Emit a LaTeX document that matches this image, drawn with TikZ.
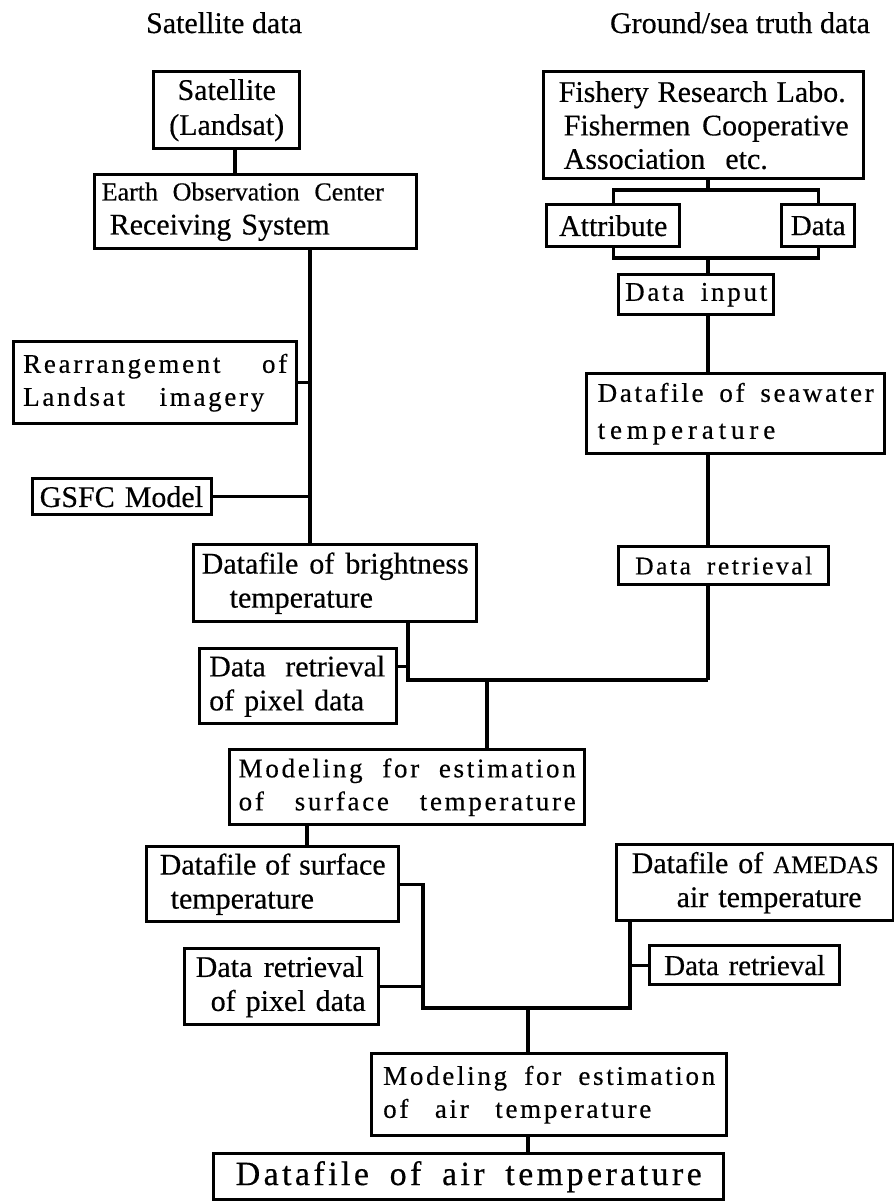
\documentclass[tikz,border=0pt]{standalone}
\usepackage{fontspec}
\setmainfont{Liberation Serif}[FakeBold=0.4]
\newfontfamily\spaced[LetterSpace=10, FakeBold=0.4]{Liberation Serif}
\newfontfamily\spacedwide[LetterSpace=18, FakeBold=0.4]{Liberation Serif}
\newcommand\fsz[2]{\fontsize{#1pt}{#2pt}\selectfont}
\newcommand\fit[2]{\leavevmode\hbox to #1pt{\spaceskip=.25em plus 1fil\relax#2}}
\tikzstyle{block}=[draw, line width=3.4pt, anchor=north west, inner sep=0pt, align=left, font=\fsz{30}{34}]
\tikzstyle{link}=[line width=3.4pt]
\tikzstyle{heading}=[anchor=base, font=\fsz{30}{34}]
\tikzset{dims/.style n args={3}{minimum width=#1pt, minimum height=#2pt, text width=#3pt}}

\begin{document}
\begin{tikzpicture}[x=1pt, y=-1pt]
  \useasboundingbox (0,0) rectangle (894,1202);

  % column headings
  \node[heading] (sattitle) at (224,33) {Satellite data};
  \node[heading] (gndtitle) at (740,33) {Ground/sea truth data};

  % satellite side
  \node[block, dims={146}{77}{130}, align=center, font=\fsz{30}{35}] (sat) at (152,70) {Satellite\\(Landsat)};
  \node[block, dims={322}{74}{308}] (eoc) at (93,173) {{\fsz{26}{34}\fit{282}{Earth Observation Center}}\\\hspace*{8pt}Receiving System};
  \node[block, dims={283}{82}{264}, font=\spaced\fsz{27}{33}] (rearr) at (12,340) {\fit{264}{Rearrangement of}\\\fit{241}{Landsat imagery}};
  \node[block, dims={179}{36}{165}] (gsfc) at (31,477) {GSFC Model};
  \node[block, dims={283}{77}{267}] (bright) at (192,543) {\fit{267}{Datafile of brightness}\\\hspace*{28pt}temperature};
  \node[block, dims={197}{75}{178}] (pix1) at (198,647) {\fit{176}{Data retrieval}\\of pixel data};
  \node[block, dims={355}{75}{337}, font=\spaced\fsz{27}{33}] (modsurf) at (228,748) {\fit{337}{Modeling for estimation}\\\fit{337}{of surface temperature}};

  % ground/sea truth side
  \node[block, dims={320}{107}{290}, font=\fsz{30}{33.5}] (fish) at (542,70) {\fit{287}{Fishery Research Labo.}\\\hspace*{5pt}\fit{285}{Fishermen Cooperative}\\\hspace*{5pt}Association\ \ etc.};
  \node[block, dims={133}{42}{110}, align=center] (attr) at (545,203) {Attribute};
  \node[block, dims={73}{42}{60}, align=center, font=\fsz{29}{34}] (data) at (780,203) {Data};
  \node[block, dims={155}{40}{142}, align=center, font=\spaced\fsz{27}{33}] (dinp) at (617,273) {\fit{142}{Data input}};
  \node[block, dims={298}{80}{276}, font=\spaced\fsz{27}{37}] (sea) at (585,372) {\fit{276}{Datafile of seawater}\\{\spacedwide temperature}};
  \node[block, dims={210}{38}{177}, align=center, font=\spaced\fsz{25.5}{30}] (dret1) at (617,545) {\fit{177}{Data retrieval}};

  % air temperature part
  \node[block, dims={252}{75}{226}] (surf) at (145,845) {\fit{226}{Datafile of surface}\\\hspace*{11pt}temperature};
  \node[block, dims={194}{76}{172}] (pix2) at (183,947) {\fit{168}{Data retrieval}\\\hspace*{15pt}of pixel data};
  \node[block, dims={277}{76}{247}] (amedas) at (615,843) {\fit{247}{Datafile of {\fsz{25}{34}AMEDAS}}\\\hspace*{45pt}air temperature};
  \node[block, dims={190}{39}{161}, align=center, font=\fsz{29}{34}] (dret2) at (648,944) {\fit{161}{Data retrieval}};
  \node[block, dims={355}{82}{332}, font=\spaced\fsz{27}{33}] (modair) at (370,1052) {\fit{332}{Modeling for estimation}\\\fit{268}{of air temperature}};
  \node[block, dims={510}{46}{466}, align=center, font=\spaced\fsz{34}{40}] (dair) at (212,1152) {\fit{466}{Datafile of air temperature}};

  % trunk and bus positions
  \coordinate (satdrop) at (235,0);
  \coordinate (ltrunk) at (310,0);
  \coordinate (rtrunk) at (708,0);
  \coordinate (forkt) at (0,190);
  \coordinate (forkb) at (0,258);
  \coordinate (bus1w) at (408,680);
  \coordinate (bus1m) at (487,680);
  \coordinate (bus1e) at (708,680);
  \coordinate (sdrop) at (307,0);
  \coordinate (bus2w) at (423,1008);
  \coordinate (bus2m) at (528,1008);
  \coordinate (bus2e) at (630,1008);

  % satellite side links
  \draw[link] (sat.south -| satdrop) -- (eoc.north -| satdrop);
  \draw[link] (eoc.south -| ltrunk) -- (bright.north -| ltrunk);
  \draw[link] (rearr.east) -- (rearr.east -| ltrunk);
  \draw[link] (gsfc.east) -- (gsfc.east -| ltrunk);
  \draw[link] (bright.south -| bus1w) -- (bus1w) -- (bus1e);
  \draw[link] ([yshift=20pt]pix1.east) -- ([yshift=20pt]pix1.east -| bus1w);
  \draw[link] (bus1m) -- (modsurf.north -| bus1m);

  % ground/sea truth side links
  \draw[link] (fish.south -| rtrunk) -- (forkt -| rtrunk);
  \draw[link] (attr.north) -- (attr.north |- forkt) -- (data.north |- forkt) -- (data.north);
  \draw[link] (attr.south) -- (attr.south |- forkb) -- (data.south |- forkb) -- (data.south);
  \draw[link] (forkb -| rtrunk) -- (dinp.north -| rtrunk);
  \draw[link] (dinp.south -| rtrunk) -- (sea.north -| rtrunk);
  \draw[link] (sea.south -| rtrunk) -- (dret1.north -| rtrunk);
  \draw[link] (dret1.south -| rtrunk) -- (bus1e);

  % air temperature links
  \draw[link] (modsurf.south -| sdrop) -- (surf.north -| sdrop);
  \draw[link] (surf.east) -- (surf.east -| bus2w) -- (bus2w) -- (bus2e) -- (amedas.south -| bus2e);
  \draw[link] (pix2.east) -- (pix2.east -| bus2w);
  \draw[link] (dret2.west) -- (dret2.west -| bus2e);
  \draw[link] (bus2m) -- (modair.north -| bus2m);
  \draw[link] (modair.south -| bus2m) -- (dair.north -| bus2m);
\end{tikzpicture}
\end{document}
